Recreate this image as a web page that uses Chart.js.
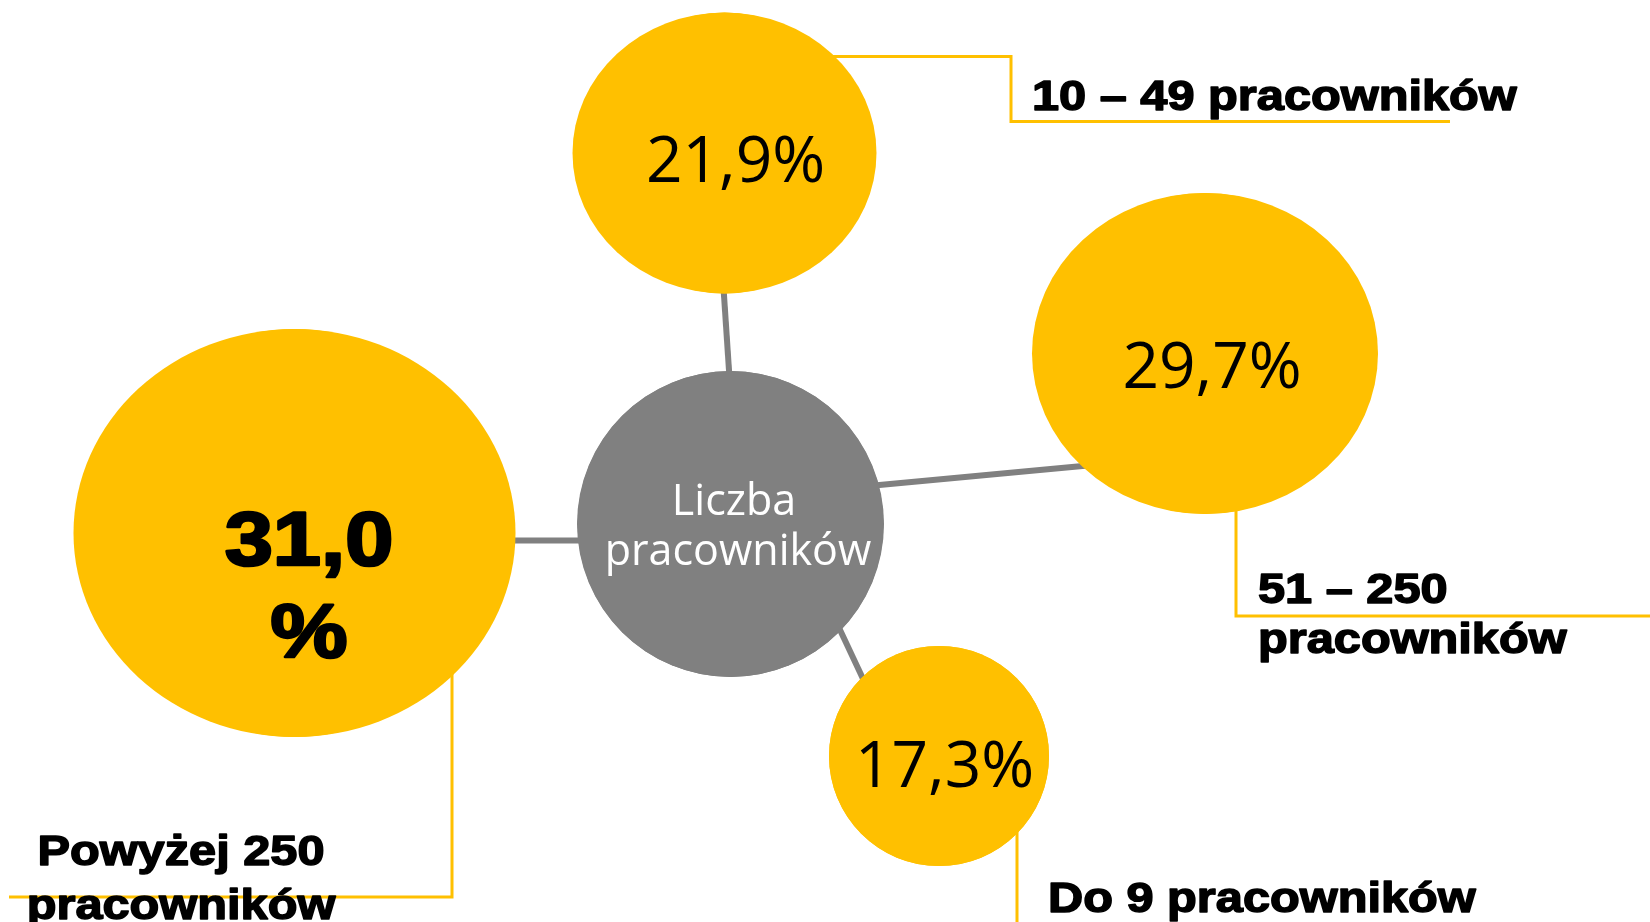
<!DOCTYPE html>
<html>
<head>
<meta charset="utf-8">
<script src="https://cdn.jsdelivr.net/npm/chart.js@4.4.1/dist/chart.umd.min.js"></script>
<style>
  html, body { margin: 0; padding: 0; background: #ffffff; overflow: hidden; }
  #wrap { width: 1650px; height: 922px; position: relative; }
</style>
</head>
<body>
<div id="wrap"><canvas id="c"></canvas></div>
<script>
// ---- data ----
const categories = ['Do 9 pracowników', '10 – 49 pracowników', '51 – 250 pracowników', 'Powyżej 250 pracowników'];
const values = [17.3, 21.9, 29.7, 31.0];
const categoryLines = [['Do 9 pracowników'], ['10 – 49 pracowników'], ['51 – 250', 'pracowników'], ['Powyżej 250', 'pracowników']];
const hubLabel = ['Liczba', 'pracowników'];

// ---- layout (scale units; axes span the canvas) ----
const bubbleX  = [939, 724.5, 1205, 294.5];
const bubbleY  = [756, 153, 353.5, 533];
const bubbleRX = [110, 152, 173, 221];
const bubbleRY = [110, 140.5, 160.5, 204];
const hubPos = { x: 730.5, y: 524, rx: 153.5, ry: 153 };
const connectors = [
  [[826, 600], [872, 698]],
  [[731, 400], [722.3, 270]],
  [[850, 487.8], [1112, 463.2]],
  [[490, 540.5], [600, 540.5]]
];
const callouts = [
  [[1017, 800], [1017, 930]],
  [[800, 56.5], [1011, 56.5], [1011, 121.5], [1450, 121.5]],
  [[1236, 480], [1236, 616], [1660, 616]],
  [[452, 650], [452, 897], [9, 897]]
];
const valueX = [944.5, 735.5, 1212, 309];
const valueBase = [[787], [182], [388], [565, 657]];
const valueBold = [false, false, false, true];
const labelX = [1048, 1032, 1258, 181];
const labelBase = [[912], [110], [603, 653], [865, 919]];
const labelAlign = ['left', 'left', 'left', 'center'];
const hubText = { x: [734, 738], base: [515, 565] };

const YELLOW = '#FFC000';
const GREY = '#808080';

function fmt(v, bold) {
  const s = v.toFixed(1).replace('.', ',');
  return bold ? [s, '%'] : [s + '%'];
}

const datasets = [];
connectors.forEach(seg => {
  datasets.push({
    type: 'line', order: 3, clip: false,
    data: seg.map(p => ({ x: p[0], y: p[1] })),
    borderColor: GREY, borderWidth: 6, pointRadius: 0, tension: 0, fill: false, borderCapStyle: 'butt'
  });
});
callouts.forEach(seg => {
  datasets.push({
    type: 'line', order: 2, clip: false,
    data: seg.map(p => ({ x: p[0], y: p[1] })),
    borderColor: YELLOW, borderWidth: 3, pointRadius: 0, tension: 0, fill: false, borderJoinStyle: 'miter'
  });
});
// bubbles: hub + categories
const bubblePts = [{ x: hubPos.x, y: hubPos.y, r: Math.min(hubPos.rx, hubPos.ry), rx: hubPos.rx, ry: hubPos.ry }];
const bubbleColors = [GREY];
values.forEach((v, i) => {
  bubblePts.push({ x: bubbleX[i], y: bubbleY[i], r: Math.min(bubbleRX[i], bubbleRY[i]), rx: bubbleRX[i], ry: bubbleRY[i], v: v });
  bubbleColors.push(YELLOW);
});
datasets.push({
  type: 'bubble', order: 1, isBubbles: true, clip: false,
  data: bubblePts,
  backgroundColor: bubbleColors, borderWidth: 0, borderColor: bubbleColors
});

const ellipsePlugin = {
  id: 'ellipses',
  afterDatasetDraw(chart, args) {
    const ds = chart.data.datasets[args.index];
    if (!ds.isBubbles) return;
    const ctx = chart.ctx;
    const xs = chart.scales.x, ys = chart.scales.y;
    ctx.save();
    args.meta.data.forEach((el, i) => {
      const p = ds.data[i];
      const rx = Math.abs(xs.getPixelForValue(p.x + p.rx) - el.x);
      const ry = Math.abs(ys.getPixelForValue(p.y + p.ry) - el.y);
      ctx.beginPath();
      ctx.ellipse(el.x, el.y, rx, ry, 0, 0, Math.PI * 2);
      ctx.fillStyle = ds.backgroundColor[i];
      ctx.fill();
    });
    ctx.restore();
  }
};

function heavyText(ctx, text, x, y, size, align, sx) {
  ctx.save();
  ctx.translate(x, y);
  ctx.scale(sx, 1);
  ctx.font = 'bold ' + size + 'px "Liberation Sans", Arial, sans-serif';
  ctx.textAlign = align;
  ctx.textBaseline = 'alphabetic';
  ctx.fillStyle = '#000';
  ctx.strokeStyle = '#000';
  ctx.lineWidth = size * 0.035;
  ctx.lineJoin = 'round';
  ctx.strokeText(text, 0, 0);
  ctx.fillText(text, 0, 0);
  ctx.restore();
}

const textPlugin = {
  id: 'texts',
  afterDatasetsDraw(chart) {
    const ctx = chart.ctx;
    const xs = chart.scales.x, ys = chart.scales.y;
    // value labels
    values.forEach((v, i) => {
      const lines = fmt(v, valueBold[i]);
      lines.forEach((t, j) => {
        const px = xs.getPixelForValue(valueX[i]);
        const py = ys.getPixelForValue(valueBase[i][j]);
        if (valueBold[i]) {
          heavyText(ctx, t, px, py, 76, 'center', 1.14);
        } else {
          ctx.save();
          ctx.font = '64px "Open Sans", "Noto Sans", sans-serif';
          ctx.textAlign = 'center';
          ctx.textBaseline = 'alphabetic';
          ctx.fillStyle = '#000';
          ctx.fillText(t, px, py);
          ctx.restore();
        }
      });
    });
    // hub label
    hubLabel.forEach((t, j) => {
      ctx.save();
      ctx.font = '43px "Open Sans", "Noto Sans", sans-serif';
      ctx.textAlign = 'center';
      ctx.textBaseline = 'alphabetic';
      ctx.fillStyle = '#ffffff';
      ctx.fillText(t, xs.getPixelForValue(hubText.x[j]), ys.getPixelForValue(hubText.base[j]));
      ctx.restore();
    });
    // category labels
    categoryLines.forEach((lines, i) => {
      lines.forEach((t, j) => {
        heavyText(ctx, t, xs.getPixelForValue(labelX[i]), ys.getPixelForValue(labelBase[i][j]), 42, labelAlign[i], 1.16);
      });
    });
  }
};

new Chart(document.getElementById('c'), {
  type: 'bubble',
  data: { datasets: datasets },
  options: {
    responsive: true,
    maintainAspectRatio: false,
    animation: false,
    events: [],
    layout: { padding: 0, autoPadding: false },
    plugins: { legend: { display: false }, tooltip: { enabled: false } },
    scales: {
      x: { type: 'linear', min: 0, max: 1650, display: false },
      y: { type: 'linear', min: 0, max: 922, reverse: true, display: false }
    }
  },
  plugins: [ellipsePlugin, textPlugin]
});
</script>
</body>
</html>
